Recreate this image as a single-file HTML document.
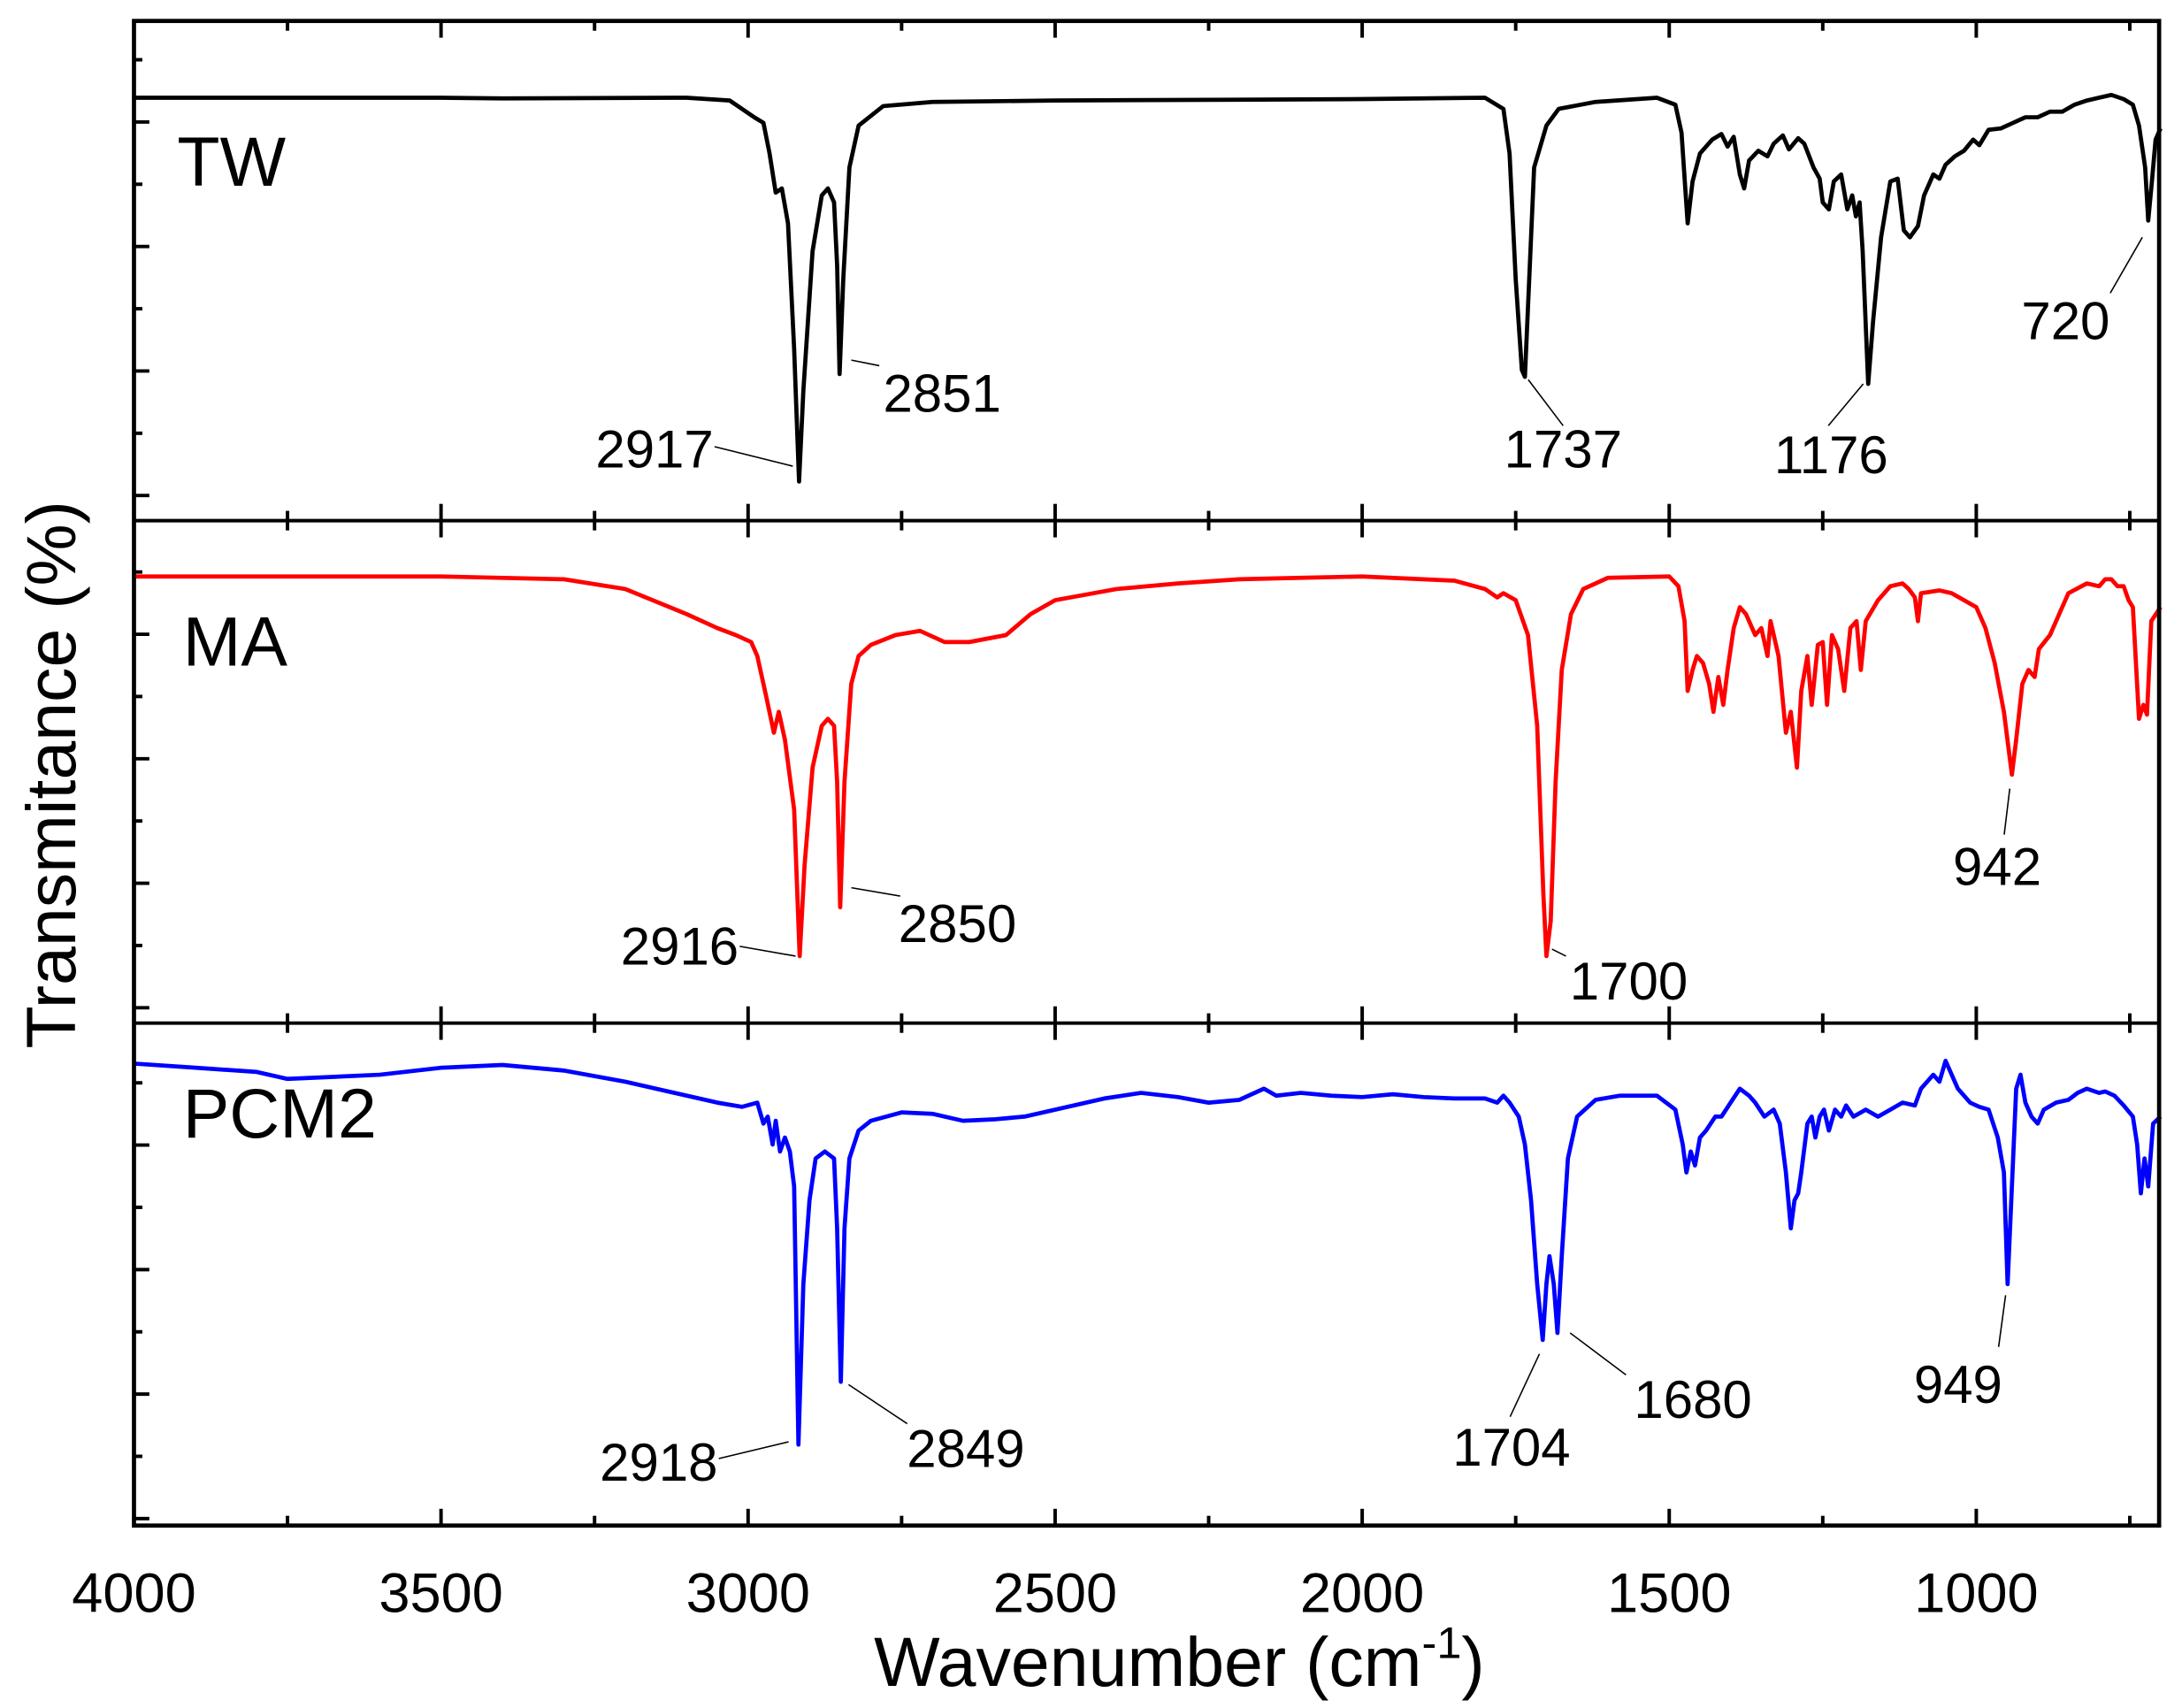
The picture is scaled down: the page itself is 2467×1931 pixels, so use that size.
<!DOCTYPE html>
<html><head><meta charset="utf-8"><style>
html,body{margin:0;padding:0;background:#fff;}
svg{display:block;}
text{font-family:"Liberation Sans",Arial,sans-serif;fill:#000;}
</style></head><body>
<svg id="chart" width="2467" height="1931" viewBox="0 0 1563.4 1223.7" xmlns="http://www.w3.org/2000/svg">
<g id="ticks"></g>
<g id="series"></g>
<g id="annot"></g>
<rect x="96" y="15" width="1451" height="1078" fill="none" stroke="#000" stroke-width="3"/>
<line x1="96" y1="373" x2="1547" y2="373" stroke="#000" stroke-width="2.5"/>
<line x1="96" y1="733" x2="1547" y2="733" stroke="#000" stroke-width="2.5"/>
<text x="127" y="133" font-size="50">TW</text>
<text x="131" y="477" font-size="50">MA</text>
<text x="131" y="815" font-size="50">PCM2</text>
<text x="845" y="1208" font-size="50" text-anchor="middle">Wavenumber (cm<tspan font-size="32" dy="-20">-1</tspan><tspan dy="20">)</tspan></text>
<text transform="translate(54,555) rotate(-90)" font-size="50" text-anchor="middle">Transmitance (%)</text>
<g id="xlabels"></g>
</svg>
<script>
const xTicks=[4000,3500,3000,2500,2000,1500,1000];
const xMinor=[3750,3250,2750,2250,1750,1250,750];
const twWn=[4000,3500,3400,3100,3030,3010,2990,2975,2965,2955,2945,2935,2925,2917,2910,2895,2880,2870,2860,2855,2851,2845,2835,2820,2780,2700,2500,2000,1800,1770,1760,1750,1740,1735,1728,1720,1700,1680,1620,1520,1490,1480,1470,1462,1450,1430,1415,1405,1395,1385,1378,1370,1355,1340,1330,1315,1305,1290,1280,1265,1255,1250,1240,1232,1220,1210,1202,1196,1190,1185,1176,1168,1155,1140,1128,1118,1108,1095,1085,1070,1060,1050,1035,1020,1005,995,980,960,940,920,900,880,860,840,820,800,780,760,745,735,725,720,714,708,700];
const twT=[303,303,302.5,303,301,295,289,285,263,235,238,213,123,28,93,193,233,238,228,183,105,173,253,283,297,300,301,302,303,295,263,173,108,103,173,253,283,295,300,303,298,278,213,243,263,273,277,268,275,248,238,258,265,261,270,276,266,274,270,253,245,228,223,243,248,223,233,218,228,193,98,143,203,243,245,208,203,211,233,248,245,255,261,265,273,269,280,281,285,289,289,293,293,298,301,303,305,302,298,283,253,215,243,273,281];
const maWn=[4000,3500,3300,3200,3100,3050,3020,2995,2985,2970,2958,2950,2940,2925,2916,2908,2895,2880,2870,2860,2855,2850,2843,2832,2820,2800,2760,2720,2680,2640,2580,2540,2500,2400,2300,2200,2100,2000,1850,1800,1780,1770,1750,1730,1715,1705,1700,1693,1685,1675,1660,1640,1600,1500,1485,1475,1470,1462,1455,1445,1435,1428,1420,1412,1405,1395,1385,1375,1360,1350,1340,1335,1322,1310,1302,1292,1285,1275,1268,1258,1250,1243,1235,1225,1215,1205,1195,1188,1180,1160,1140,1120,1110,1100,1095,1090,1060,1040,1020,1000,985,970,955,942,935,925,915,905,898,880,865,850,820,800,790,780,770,760,752,745,740,735,728,722,715,700];
const maT=[320,320,318,311,293,283,278,273,263,233,208,223,203,153,48,113,183,213,218,213,173,83,173,243,263,271,278,281,273,273,278,293,303,311,315,318,319,320,317,311,305,308,303,278,213,93,48,73,173,253,293,311,319,320,313,288,238,253,263,258,243,223,248,228,253,283,298,293,278,283,263,288,263,208,223,183,238,263,228,271,273,228,278,268,238,283,288,253,288,303,313,315,311,305,288,308,310,308,303,298,283,258,223,178,203,243,253,248,268,278,293,308,315,313,318,318,313,313,303,298,258,218,228,221,288,298];
const pcWn=[4000,3900,3800,3750,3650,3600,3500,3400,3300,3200,3100,3050,3010,2985,2975,2968,2960,2955,2948,2940,2932,2925,2918,2910,2900,2890,2875,2860,2855,2849,2843,2835,2820,2800,2750,2700,2650,2600,2550,2500,2420,2360,2300,2250,2200,2160,2140,2100,2050,2000,1950,1900,1850,1800,1780,1770,1760,1745,1735,1725,1715,1706,1700,1695,1688,1682,1675,1665,1650,1620,1580,1520,1490,1478,1472,1465,1458,1450,1440,1425,1415,1400,1385,1370,1360,1345,1330,1320,1310,1302,1296,1290,1285,1275,1268,1262,1255,1248,1240,1230,1220,1212,1200,1180,1160,1140,1120,1100,1090,1070,1060,1050,1040,1030,1010,995,980,965,955,949,942,935,928,920,910,900,890,870,850,835,820,800,790,775,760,745,738,732,726,720,712,700];
const pcT=[331,328,325,320,322,323,328,330,326,318,308,303,300,303,288,293,273,290,268,278,268,243,58,173,233,263,268,263,213,103,213,263,283,290,296,295,290,291,293,298,306,310,307,303,305,313,308,310,308,307,309,307,306,306,303,308,303,293,273,233,173,133,173,193,173,138,193,263,293,305,308,308,298,273,253,268,258,278,283,293,293,303,313,308,303,293,298,288,253,213,233,238,253,288,293,278,293,298,283,298,293,301,293,298,293,298,303,301,313,323,318,333,323,313,303,300,298,278,253,173,243,313,323,303,293,288,298,303,305,310,313,310,311,308,301,293,273,238,263,243,288,293];
const panels=[
 {name:'tw',wn:twWn,t:twT,bottom:373,color:'#000000'},
 {name:'ma',wn:maWn,t:maT,bottom:733,color:'#ff0000'},
 {name:'pcm2',wn:pcWn,t:pcT,bottom:1093,color:'#0000ff'}];
const X0=96,XMAX=4000,PXU=0.44;
function xs(w){return X0+(XMAX-w)*PXU;}
function ys(p,v){return p.bottom-v;}
const NS='http://www.w3.org/2000/svg';
function mk(tag,attrs,parent){const e=document.createElementNS(NS,tag);for(const k in attrs)e.setAttribute(k,attrs[k]);parent.appendChild(e);return e;}
const sg=document.getElementById('series');
panels.forEach(p=>{
 let d='';p.wn.forEach((w,i)=>{d+=(i?'L':'M')+xs(w).toFixed(2)+','+ys(p,p.t[i]).toFixed(2);});
 const path=mk('path',{d:d,fill:'none',stroke:p.color,'stroke-width':3,'stroke-linejoin':'round'},sg);
 
 
});
const tg=document.getElementById('ticks');
const hLines=[15,373,733,1093];
hLines.forEach((y,li)=>{
 xTicks.concat(xMinor).forEach(w=>{
  const maj=xTicks.includes(w);const L=maj?12:7;
  if(li<3){const t=mk('line',{x1:xs(w),x2:xs(w),y1:y,y2:y+L,stroke:'#000','stroke-width':2.5},tg);
   
   }
  if(li>0){const t=mk('line',{x1:xs(w),x2:xs(w),y1:y,y2:y-L,stroke:'#000','stroke-width':2.5},tg);
   
   }
 });
});
[[373,18],[733,11],[1093,5]].forEach(([b,s])=>{
 for(let k=0;k<8;k++){const y=b-s-k*44.6;const L=(k%2===0)?11:6;
  const t=mk('line',{x1:96,x2:96+L,y1:y,y2:y,stroke:'#000','stroke-width':2.5},tg);
  
  }
});
const xl=document.getElementById('xlabels');
xTicks.forEach(w=>{const t=mk('text',{x:xs(w),y:1155,'font-size':40,'text-anchor':'middle'},xl);t.textContent=w;
 
 });
const annLabels=['2917','2851','1737','1176','720','2916','2850','1700','942','2918','2849','1704','1680','949'];
const annText=[[469,335],[675,295],[1120,335],[1312,339],[1480,243],[487,691],[686,675],[1167,716],[1431,634],[472,1061],[692,1051],[1083,1050],[1213,1016],[1403,1005]];
const annLine=[[512,320,568,334],[610,258,630,262],[1095,272,1120,305],[1310,305,1335,275],[1512,210,1535,170],[530,678,570,685],[610,636,645,642],[1112,680,1122,685],[1436,598,1440,565],[515,1045,565,1033],[608,992,650,1020],[1082,1015,1103,970],[1125,955,1165,985],[1432,965,1437,928]];
const ag=document.getElementById('annot');
annLabels.forEach((s,i)=>{
 const t=mk('text',{x:annText[i][0],y:annText[i][1],'font-size':38,'text-anchor':'middle'},ag);t.textContent=s;
 
 
 const l=annLine[i];const ln=mk('line',{x1:l[0],y1:l[1],x2:l[2],y2:l[3],stroke:'#000','stroke-width':1},ag);
 
 
});
</script>
</body></html>
